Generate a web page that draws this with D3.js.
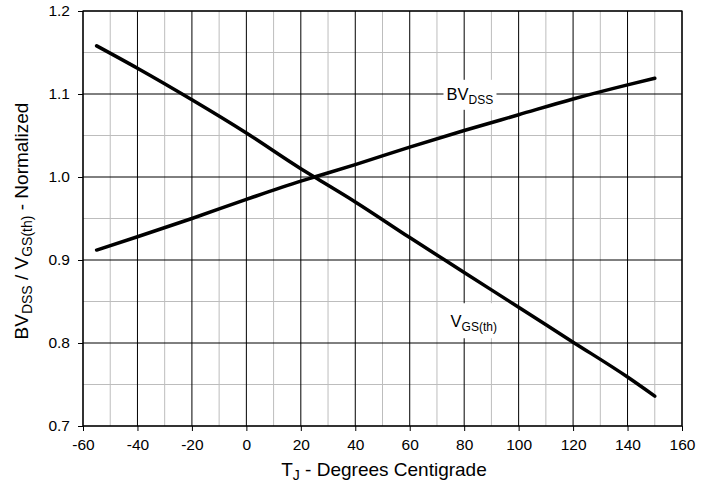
<!DOCTYPE html>
<html>
<head>
<meta charset="utf-8">
<script src="https://cdn.jsdelivr.net/npm/d3@7"></script>
<style>
  body { margin: 0; background: #fff; }
  text { font-family: "Liberation Sans", Arial, sans-serif; fill: #000; }
</style>
</head>
<body>
<div id="chart"></div>
<script>
const SVG_WIDTH = 712;
const SVG_HEIGHT = 484;
const margin = { top: 11, right: 30, bottom: 58, left: 83 };
const width = 682 - margin.left;
const height = 426 - margin.top;

// Temperature points (deg C)
const temps = [-55, -40, -20, 0, 20, 25, 40, 60, 80, 100, 120, 140, 150];
// Normalized values
const bvdss = [0.912, 0.928, 0.950, 0.973, 0.995, 1.000, 1.015, 1.036, 1.056, 1.075, 1.094, 1.111, 1.119];
const vgsth = [1.158, 1.131, 1.093, 1.053, 1.010, 1.000, 0.970, 0.927, 0.885, 0.843, 0.801, 0.759, 0.736];

const xTicks = [-60, -40, -20, 0, 20, 40, 60, 80, 100, 120, 140, 160];
const yTicks = [0.7, 0.8, 0.9, 1.0, 1.1, 1.2];
const xMinor = [-50, -30, -10, 10, 30, 50, 70, 90, 110, 130, 150];
const yMinor = [0.75, 0.85, 0.95, 1.05, 1.15];

const svg = d3.select("#chart")
    .append("svg")
    .attr("width", SVG_WIDTH)
    .attr("height", SVG_HEIGHT);

const g = svg.append("g")
    .attr("transform", `translate(${margin.left},${margin.top})`);

const x = d3.scaleLinear().domain([-60, 160]).range([0, width]);
const y = d3.scaleLinear().domain([0.7, 1.2]).range([height, 0]);

// minor grid (grey)
g.append("g")
    .selectAll("line")
    .data(xMinor)
    .enter()
    .append("line")
    .attr("x1", d => x(d)).attr("x2", d => x(d))
    .attr("y1", 0).attr("y2", height)
    .attr("stroke", "#bdbdbd")
    .attr("stroke-width", 1);
g.append("g")
    .selectAll("line")
    .data(yMinor)
    .enter()
    .append("line")
    .attr("x1", 0).attr("x2", width)
    .attr("y1", d => y(d)).attr("y2", d => y(d))
    .attr("stroke", "#bdbdbd")
    .attr("stroke-width", 1);

// major grid (black)
g.append("g")
    .selectAll("line")
    .data(xTicks)
    .enter()
    .append("line")
    .attr("x1", d => x(d)).attr("x2", d => x(d))
    .attr("y1", 0).attr("y2", height)
    .attr("stroke", "#000")
    .attr("stroke-width", 1);
g.append("g")
    .selectAll("line")
    .data(yTicks)
    .enter()
    .append("line")
    .attr("x1", 0).attr("x2", width)
    .attr("y1", d => y(d)).attr("y2", d => y(d))
    .attr("stroke", "#000")
    .attr("stroke-width", 1);

// axes (plain hyphen for negatives, like the original)
const xAxis = g.append("g")
    .attr("transform", `translate(0,${height})`)
    .call(d3.axisBottom(x).tickValues(xTicks).tickSize(5).tickPadding(8).tickFormat(d => String(d)));
const yAxis = g.append("g")
    .call(d3.axisLeft(y).tickValues(yTicks).tickSize(5).tickPadding(8).tickFormat(d => d.toFixed(1)));
[xAxis, yAxis].forEach(a => {
    a.select(".domain").remove();
    a.selectAll("line").attr("stroke", "#000");
    a.selectAll("text")
        .style("font-family", "'Liberation Sans', Arial, sans-serif")
        .style("font-size", "15.5px")
        .attr("fill", "#000");
});

// frame
g.append("rect")
    .attr("x", 0).attr("y", 0)
    .attr("width", width).attr("height", height)
    .attr("fill", "none")
    .attr("stroke", "#000")
    .attr("stroke-width", 1.2);

// curve labels with white boxes
function label(tx, ty, main, sub, box) {
    g.append("rect")
        .attr("x", x(tx) + box[0]).attr("y", y(ty) + box[1])
        .attr("width", box[2]).attr("height", box[3])
        .attr("fill", "#fff");
    const t = g.append("text")
        .attr("x", x(tx))
        .attr("y", y(ty))
        .style("font-size", "16.5px");
    t.append("tspan").text(main);
    t.append("tspan").text(sub)
        .style("font-size", "12px")
        .attr("dy", "4");
}
label(73.5, 1.093, "BV", "DSS", [-3, -20, 53, 30]);
label(75, 0.819, "V", "GS(th)", [-10, -24, 65, 35]);

// lines
const line = d3.line()
    .x((d, i) => x(temps[i]))
    .y(d => y(d))
    .curve(d3.curveMonotoneX);

[bvdss, vgsth].forEach(series => {
    g.append("path")
        .datum(series)
        .attr("d", line)
        .attr("fill", "none")
        .attr("stroke", "#000")
        .attr("stroke-width", 3.5)
        .attr("stroke-linecap", "round");
});

// axis titles
const xt = svg.append("text")
    .attr("x", 384)
    .attr("y", 476)
    .attr("text-anchor", "middle")
    .style("font-size", "19px");
xt.append("tspan").text("T");
xt.append("tspan").text("J").style("font-size", "14px").attr("dy", "4");
xt.append("tspan").text(" - Degrees Centigrade").attr("dy", "-4");

const yt = svg.append("text")
    .attr("transform", `translate(28,221) rotate(-90)`)
    .attr("text-anchor", "middle")
    .style("font-size", "19px");
yt.append("tspan").text("BV");
yt.append("tspan").text("DSS").style("font-size", "14px").attr("dy", "4");
yt.append("tspan").text(" / V").attr("dy", "-4");
yt.append("tspan").text("GS(th)").style("font-size", "14px").attr("dy", "4");
yt.append("tspan").text(" - Normalized").attr("dy", "-4");
</script>
</body>
</html>
